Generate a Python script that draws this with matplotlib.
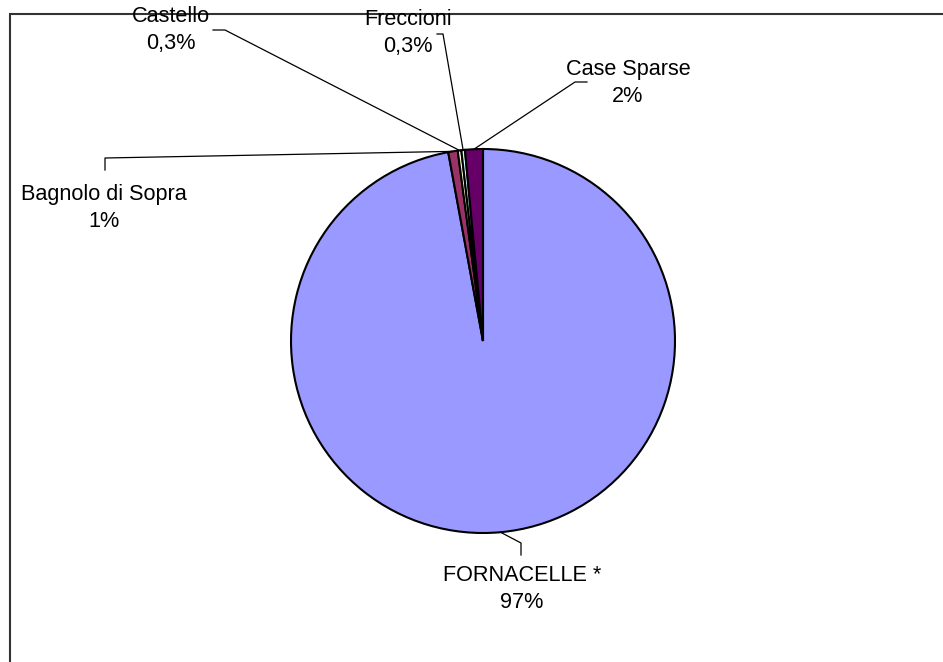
import numpy as np
import matplotlib
matplotlib.use("Agg")
import matplotlib.pyplot as plt

# data (share of population per frazione)
names = ['FORNACELLE *', 'Bagnolo di Sopra', 'Castello', 'Freccioni', 'Case Sparse']
shares = [97.1, 0.8, 0.3, 0.3, 1.5]
pct_labels = ['97%', '1%', '0,3%', '0,3%', '2%']
colors = ['#9999FF', '#993366', '#FFFFCC', '#CCFFFF', '#660066']

W, H = 943, 662

def py(y):
    # pixel row -> data y
    return H - y

# label block centres and leader-line elbows (pixel coords)
text_pos = [(522, 589), (104, 208), (171, 30), (408, 33), (628, 83)]
elbows = [[(521, 555), (521, 543)],
          [(105, 170), (105, 158)],
          [(213, 30), (225, 30)],
          [(437, 34), (443, 34)],
          [(587, 82), (575, 82)]]

plt.rcParams['font.family'] = ['Liberation Sans', 'DejaVu Sans']

fig = plt.figure(figsize=(W / 100, H / 100), dpi=100)
ax = fig.add_axes([0, 0, 1, 1])

cx, cy, r = 483, py(341), 192
wedges, _ = ax.pie(shares, colors=colors, startangle=90, counterclock=False,
                   center=(cx, cy), radius=r,
                   wedgeprops=dict(edgecolor='black', linewidth=1.5))

ax.set_xlim(0, W)
ax.set_ylim(0, H)
ax.set_aspect('equal')
ax.axis('off')

for i, w in enumerate(wedges):
    mid = np.deg2rad((w.theta1 + w.theta2) / 2)
    ax_x = cx + r * np.cos(mid)
    ax_y = cy + r * np.sin(mid)
    pts = elbows[i]
    xs = [p[0] for p in pts] + [ax_x]
    ys = [py(p[1]) for p in pts] + [ax_y]
    ax.plot(xs, ys, color='black', linewidth=0.9, zorder=3)
    tx, ty = text_pos[i]
    ax.text(tx, py(ty), names[i] + '\n' + pct_labels[i], ha='center', va='center',
            multialignment='center', fontsize=15.6, linespacing=1.36, color='black')

# chart-area frame
ax.plot([10, 10, W], [0, py(14), py(14)], color='#333333', linewidth=1.5,
        solid_joinstyle='miter', clip_on=False)

fig.savefig('out.png', dpi=100)
